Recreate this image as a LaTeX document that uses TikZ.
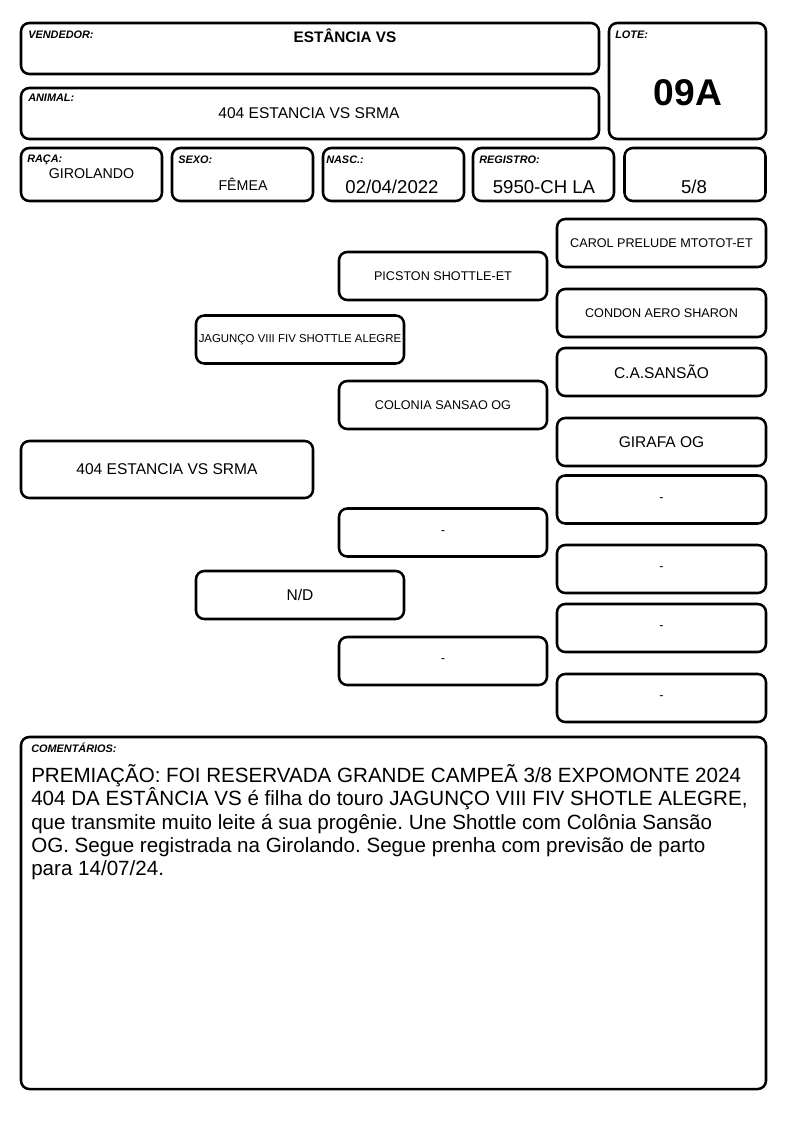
\documentclass[tikz,border=0pt]{standalone}
\usepackage{fontspec}
\setmainfont{Liberation Sans}
\usetikzlibrary{positioning}
\frenchspacing
\def\px{0.26458mm}
\tikzstyle{cell}=[draw,line width=1.9pt,rounded corners=2.2mm,inner sep=0pt]
\tikzstyle{tag}=[inner sep=0pt,anchor=base west,font=\fontsize{8.2}{9}\selectfont\bfseries\itshape]
\tikzstyle{value}=[inner sep=0pt,anchor=base]
\tikzstyle{pedbox}=[cell,minimum width=208*\px,minimum height=48*\px,align=center]
\tikzstyle{outerbox}=[cell,minimum width=209*\px,minimum height=48*\px,align=center]
\tikzstyle{bigname}=[font=\fontsize{11.7}{13}\selectfont]
\tikzstyle{smallname}=[font=\fontsize{9.5}{11}\selectfont]

\begin{document}
\begin{tikzpicture}[x=\px,y=-\px]
    \useasboundingbox (0,0) rectangle (794,1123);

    % header
    \node[cell,minimum width=578*\px,minimum height=51*\px] (vend) at (310,48.5) {};
    \node[tag] (vendtag) at (28,39) {VENDEDOR:};
    \node[value,font=\fontsize{11.5}{13}\selectfont\bfseries] (vendval) at (345,43) {ESTÂNCIA VS};

    \node[cell,minimum width=578*\px,minimum height=51*\px] (anim) at (310,113.5) {};
    \node[tag] (animtag) at (28,102) {ANIMAL:};
    \node[value,bigname] (animval) at (309,119) {404 ESTANCIA VS SRMA};

    \node[cell,minimum width=157*\px,minimum height=116*\px] (lote) at (687.5,81) {};
    \node[tag] (lotetag) at (615,39) {LOTE:};
    \node[value,font=\fontsize{28}{30}\selectfont\bfseries] (loteval) at (688,106) {09A};

    \foreach \x/\name in {91.5/raca, 242.5/sexo, 393.5/nasc, 543.5/reg, 695/grau}
        \node[cell,minimum width=141*\px,minimum height=53*\px] (\name) at (\x,174.5) {};

    \node[tag] (racatag) at (27,163) {RAÇA:};
    \node[value,font=\fontsize{10.7}{12}\selectfont] (racaval) at (91.5,178) {GIROLANDO};
    \node[tag] (sexotag) at (178,164) {SEXO:};
    \node[value,font=\fontsize{10.7}{12}\selectfont] (sexoval) at (243,190) {FÊMEA};
    \node[tag] (nasctag) at (326,164) {NASC.:};
    \node[value,font=\fontsize{14}{16}\selectfont] (nascval) at (392,193) {02/04/2022};
    \node[tag] (regtag) at (479,164) {REGISTRO:};
    \node[value,font=\fontsize{14}{16}\selectfont] (regval) at (544,193) {5950-CH LA};
    \node[value,font=\fontsize{14}{16}\selectfont] (grauval) at (694,193) {5/8};

    % pedigree
    \node[cell,bigname,minimum width=292*\px,minimum height=57*\px] (animal) at (167,469.5) {404 ESTANCIA VS SRMA};

    \node[pedbox,font=\fontsize{8.6}{10}\selectfont] (pai) at (300,339.5) {JAGUNÇO VIII FIV SHOTTLE ALEGRE};
    \node[pedbox,bigname] (mae) at (300,595) {N/D};

    \foreach \y/\name/\txt in {276/avopp/{PICSTON SHOTTLE-ET}, 405/avomp/{COLONIA SANSAO OG}, 532.5/avopm/-, 661/avomm/-}
        \node[pedbox,smallname] (\name) at (443,\y) {\txt};

    \foreach \y/\name/\txt/\sty in {243/b1/{CAROL PRELUDE MTOTOT-ET}/smallname, 313/b2/{CONDON AERO SHARON}/smallname,
            372/b3/{C.A.SANSÃO}/bigname, 442/b4/{GIRAFA OG}/bigname, 499.5/b5/-/smallname,
            569/b6/-/smallname, 628/b7/-/smallname, 698/b8/-/smallname}
        \node[outerbox,\sty] (\name) at (661.5,\y) {\txt};

    % comments
    \node[cell,minimum width=745*\px,minimum height=352*\px] (coment) at (393.5,913) {};
    \node[tag] (comenttag) at (31,752) {COMENTÁRIOS:};
    \node[inner sep=0pt,anchor=north west,align=left,font=\fontsize{15.5}{17.6}\selectfont] (comentval) at (31,764)
        {PREMIAÇÃO: FOI RESERVADA GRANDE CAMPEÃ 3/8 EXPOMONTE 2024\\
         404 DA ESTÂNCIA VS é filha do touro JAGUNÇO VIII FIV SHOTLE ALEGRE,\\
         que transmite muito leite á sua progênie. Une Shottle com Colônia Sansão\\
         OG. Segue registrada na Girolando. Segue prenha com previsão de parto\\
         para 14/07/24.};
\end{tikzpicture}
\end{document}
